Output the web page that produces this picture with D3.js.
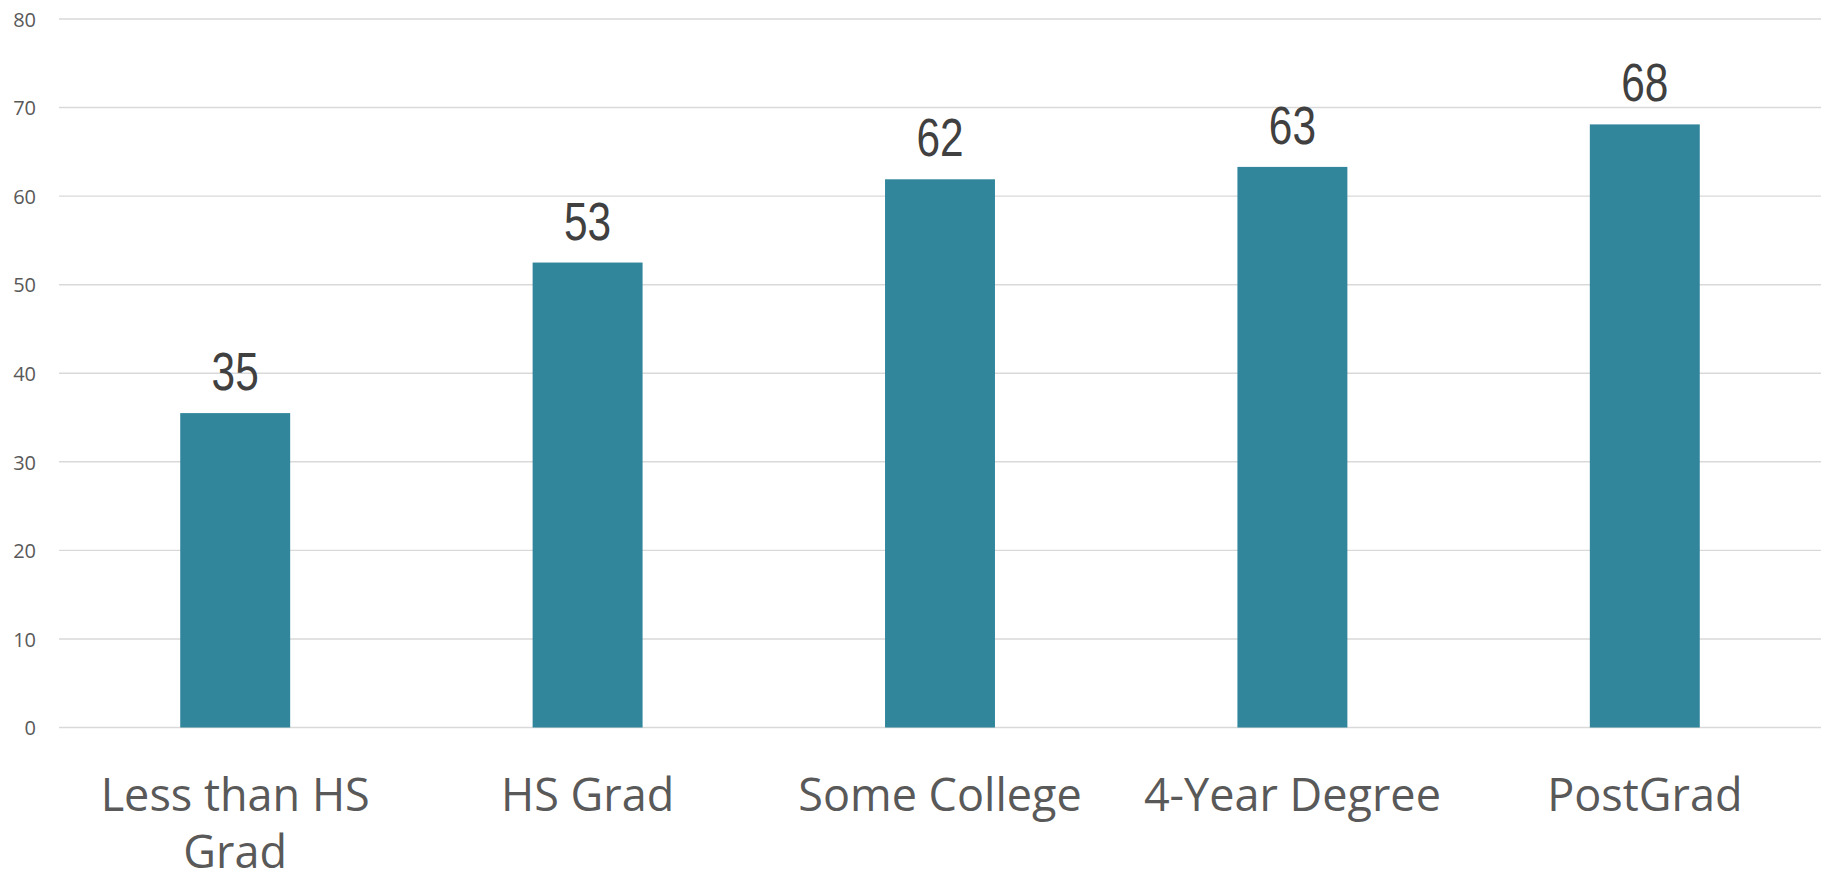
<!DOCTYPE html>
<html>
<head>
<meta charset="utf-8">
<script src="https://cdn.jsdelivr.net/npm/d3@7"></script>
<style>
  html, body { margin: 0; padding: 0; background: #ffffff; }
  svg { display: block; }
</style>
</head>
<body>
<svg id="chart" width="1826" height="881"></svg>
<script>
// Education level categories and their values
const categories = ["Less than HS Grad", "HS Grad", "Some College", "4-Year Degree", "PostGrad"];
const categoryLines = [["Less than HS", "Grad"], ["HS Grad"], ["Some College"], ["4-Year Degree"], ["PostGrad"]];
const values = [35.5, 52.5, 61.9, 63.3, 68.1];
const valueLabels = ["35", "53", "62", "63", "68"];
const yTicks = [0, 10, 20, 30, 40, 50, 60, 70, 80];

const svg = d3.select("#chart");
const plotLeft = 59, plotRight = 1821, plotTop = 19, plotBottom = 727.5;

const x = d3.scaleBand()
  .domain(categories)
  .range([plotLeft, plotRight])
  .paddingInner(0.688)
  .paddingOuter(0.344);

const y = d3.scaleLinear()
  .domain([0, 80])
  .range([plotBottom, plotTop]);

// Horizontal gridlines
svg.append("g")
  .selectAll("line")
  .data(yTicks)
  .join("line")
  .attr("x1", plotLeft)
  .attr("x2", plotRight)
  .attr("y1", d => y(d))
  .attr("y2", d => y(d))
  .attr("stroke", "#d9d9d9")
  .attr("stroke-width", 1.4);

// Y axis tick labels
const yAxis = d3.axisLeft(y).tickValues(yTicks).tickSize(0).tickPadding(0);
const gy = svg.append("g").attr("transform", "translate(36,0)").call(yAxis);
gy.select(".domain").remove();
gy.selectAll("text")
  .attr("font-family", "'Open Sans', sans-serif")
  .attr("font-size", 20)
  .attr("fill", "#595959")
  .attr("dy", "0.36em");

// Bars
svg.append("g")
  .selectAll("rect")
  .data(categories)
  .join("rect")
  .attr("x", d => x(d))
  .attr("width", x.bandwidth())
  .attr("y", (d, i) => y(values[i]))
  .attr("height", (d, i) => y(0) - y(values[i]))
  .attr("fill", "#31869c");

// Value labels above bars, horizontally condensed
svg.append("g")
  .selectAll("text")
  .data(categories)
  .join("text")
  .attr("transform", (d, i) =>
    `translate(${x(d) + x.bandwidth() / 2},${y(values[i]) - 23}) scale(0.8,1)`)
  .attr("text-anchor", "middle")
  .attr("font-family", "'Liberation Sans', Arial, sans-serif")
  .attr("font-size", 53)
  .attr("fill", "#404040")
  .text((d, i) => valueLabels[i]);

// Category labels below the axis
const cat = svg.append("g")
  .selectAll("text")
  .data(categories)
  .join("text")
  .attr("x", d => x(d) + x.bandwidth() / 2)
  .attr("y", 811)
  .attr("text-anchor", "middle")
  .attr("font-family", "'Open Sans', sans-serif")
  .attr("font-size", 45)
  .attr("fill", "#595959");
cat.selectAll("tspan")
  .data((d, i) => categoryLines[i].map(t => ({ t, x: x(d) + x.bandwidth() / 2 })))
  .join("tspan")
  .attr("x", d => d.x)
  .attr("dy", (d, j) => j === 0 ? 0 : 57)
  .text(d => d.t);
</script>
</body>
</html>
